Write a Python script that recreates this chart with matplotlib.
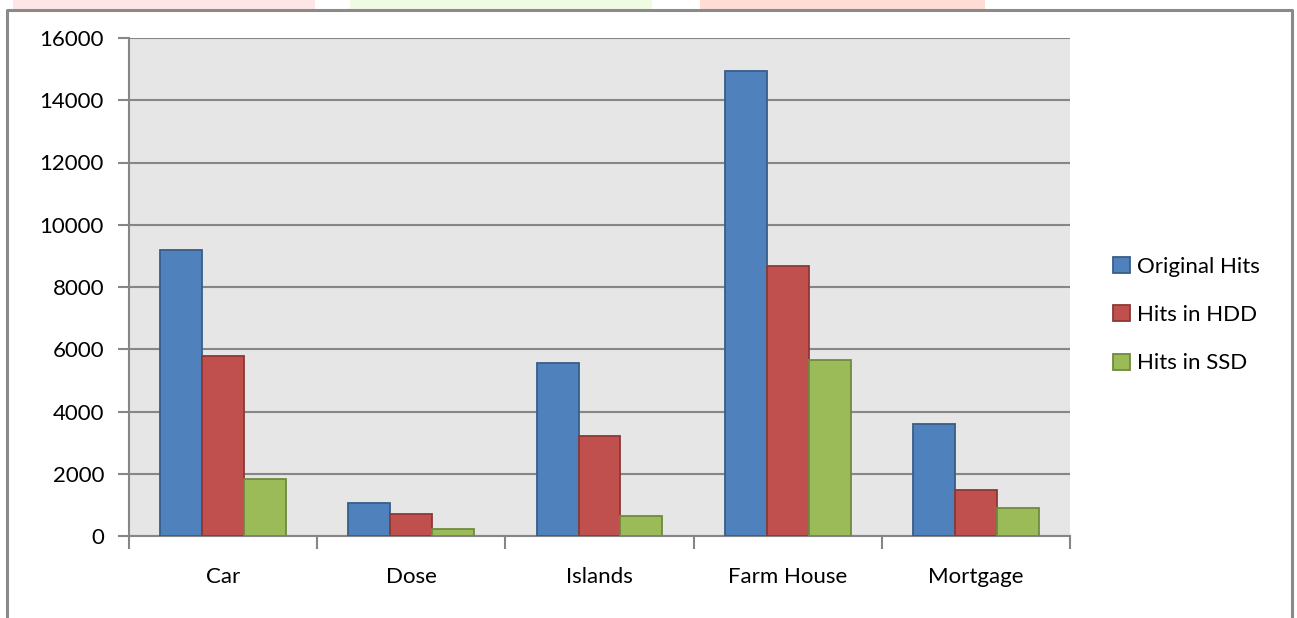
import matplotlib
matplotlib.use("Agg")
import matplotlib.pyplot as plt
from matplotlib.patches import Rectangle
from matplotlib.lines import Line2D
import numpy as np

categories = ["Car", "Dose", "Islands", "Farm House", "Mortgage"]
original_hits = [9200, 1060, 5560, 14950, 3600]
hits_hdd = [5780, 710, 3210, 8680, 1480]
hits_ssd = [1830, 230, 640, 5650, 900]
series_names = ["Original Hits", "Hits in HDD", "Hits in SSD"]
yticks = [0, 2000, 4000, 6000, 8000, 10000, 12000, 14000, 16000]

plt.rcParams['font.family'] = ['Lato', 'DejaVu Sans']

W, H = 1297, 618
fig = plt.figure(figsize=(W / 100, H / 100), dpi=100)

# faint watermark strips at the top
for x0, x1, c in [(13, 315, '#ffe6e6'), (350, 652, '#f0fbe4'), (700, 985, '#ffdcd4')]:
    fig.add_artist(Rectangle((x0 / W, (H - 9) / H), (x1 - x0) / W, 9 / H,
                             transform=fig.transFigure, facecolor=c, edgecolor='none', zorder=0))

# outer chart border (left, top, right)
bc = '#8a8a8a'
fig.add_artist(Line2D([6.5 / W, 6.5 / W, 1292 / W, 1292 / W],
                      [0, (H - 9.5) / H, (H - 9.5) / H, 0],
                      transform=fig.transFigure, color=bc, lw=2.2, zorder=1))

ax = fig.add_axes([129 / W, (H - 536) / H, (1070 - 129) / W, 498 / H])
ax.set_facecolor('#e6e6e6')

x = np.arange(len(categories))
w = 0.2225
colors = ['#4f81bd', '#c0504d', '#9bbb59']
edges = ['#385d8a', '#8c3836', '#71893f']
for i, (vals, name) in enumerate(zip([original_hits, hits_hdd, hits_ssd], series_names)):
    ax.bar(x + (i - 1) * w, vals, width=w, color=colors[i], edgecolor=edges[i],
           linewidth=1.3, label=name, zorder=3)

ax.set_xlim(-0.5, len(categories) - 0.5)
ax.set_ylim(0, 16000)
ax.set_yticks(yticks)
ax.set_yticklabels([str(v) for v in yticks])
ax.yaxis.grid(True, color='#868686', linewidth=1.5, zorder=1)
ax.set_axisbelow(True)

ax.set_xticks(np.arange(-0.5, len(categories), 1.0))
ax.set_xticklabels([])
ax.set_xticks(x, minor=True)
ax.set_xticklabels(categories, minor=True)
ax.tick_params(axis='x', which='major', direction='out', length=9, width=1.5, color='#868686')
ax.tick_params(axis='x', which='minor', length=0, pad=22, labelsize=16)
ax.tick_params(axis='y', direction='out', length=8, width=1.5, color='#868686', labelsize=16, pad=10)

for s in ['top', 'right']:
    ax.spines[s].set_visible(False)
for s in ['left', 'bottom']:
    ax.spines[s].set_color('#868686')
    ax.spines[s].set_linewidth(1.5)

leg = ax.legend(loc='center left', bbox_to_anchor=(1104 / W, (H - 315) / H),
                bbox_transform=fig.transFigure, frameon=False, fontsize=16,
                handlelength=0.75, handleheight=0.75, handletextpad=0.35,
                labelspacing=1.28, borderaxespad=0)

fig.savefig("out.png", dpi=100)
